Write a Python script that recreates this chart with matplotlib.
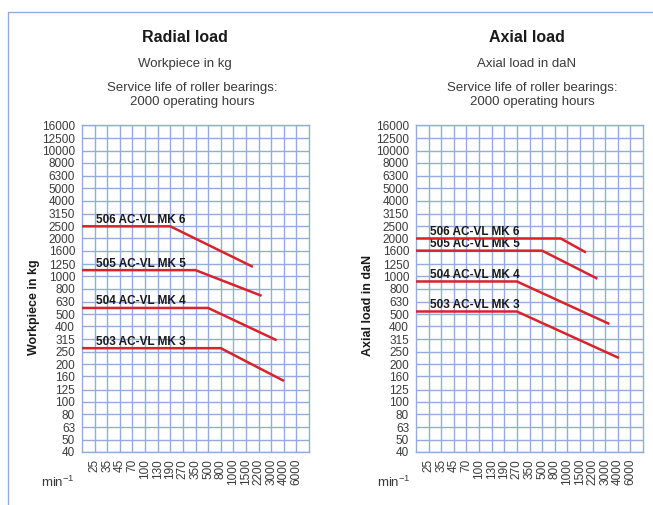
import numpy as np
import matplotlib
matplotlib.use("Agg")
import matplotlib.pyplot as plt
from matplotlib.lines import Line2D

# speed columns (min^-1) and load rows of the chart grid
speeds = [25, 35, 45, 70, 100, 130, 190, 270, 350, 500, 800, 1000, 1500, 2200, 3000, 4000, 6000]
loads = [40, 50, 63, 80, 100, 125, 160, 200, 250, 315, 400, 500, 630, 800, 1000,
         1250, 1600, 2000, 2500, 3150, 4000, 5000, 6300, 8000, 10000, 12500, 16000]
speed_min, speed_max = 18, 9000  # grid edges, one column outside 25 and 6000

models = ["503 AC-VL MK 3", "504 AC-VL MK 4", "505 AC-VL MK 5", "506 AC-VL MK 6"]

# radial load (workpiece in kg)
radial_level = [268, 560, 1120, 2500]
radial_knee = [800, 500, 350, 190]
radial_end_speed = [4030, 3400, 2370, 1850]
radial_end_load = [147, 310, 700, 1190]

# axial load (daN)
axial_level = [525, 910, 1600, 2000]
axial_knee = [270, 270, 500, 890]
axial_end_speed = [4150, 3300, 2480, 1800]
axial_end_load = [224, 418, 957, 1550]

GRID = "#93acd9"
RED = "#d8232c"
TXT = "#3a3a3a"

plt.rcParams["font.family"] = ["Liberation Sans", "DejaVu Sans"]
plt.rcParams["mathtext.fontset"] = "custom"
plt.rcParams["mathtext.rm"] = "Liberation Sans"

edges = np.log10([speed_min] + speeds + [speed_max])
slots = np.arange(len(edges))


def fwd(x):
    x = np.clip(np.asarray(x, dtype=float), 1e-3, None)
    return np.interp(np.log10(x), edges, slots)


def inv(p):
    return 10 ** np.interp(p, slots, edges)


W, H = 653, 505
fig = plt.figure(figsize=(W / 100, H / 100), dpi=100)


def px(x, y):
    return x / W, 1 - y / H


def panel(left_px, level, knee, end_s, end_l):
    ax = fig.add_axes([left_px / W, 1 - 452 / H, 227 / W, 327 / H])
    ax.set_xscale("function", functions=(fwd, inv))
    ax.set_yscale("log")
    ax.set_xlim(speed_min, speed_max)
    ax.set_ylim(loads[0], loads[-1])
    ax.set_xticks(speeds)
    ax.set_xticklabels([str(s) for s in speeds], rotation=90, va="top")
    ax.xaxis.set_minor_locator(matplotlib.ticker.NullLocator())
    ax.set_yticks(loads)
    ax.set_yticklabels([str(v) for v in loads])
    ax.yaxis.set_minor_locator(matplotlib.ticker.NullLocator())
    ax.tick_params(which="both", length=0, labelsize=8.5, labelcolor=TXT, pad=5)
    ax.grid(True, which="major", color=GRID, lw=1)
    for s in ax.spines.values():
        s.set_color(GRID)
        s.set_linewidth(1)
    for name, lv, k, es, el in zip(models, level, knee, end_s, end_l):
        ax.plot([speed_min, k, es], [lv, lv, el], color=RED, lw=1.8,
                solid_capstyle="butt", zorder=3, clip_on=False)
        ax.annotate(name, xy=(0.06, lv), xycoords=("axes fraction", "data"),
                    xytext=(0, 2.5), textcoords="offset points",
                    fontsize=8.5, fontweight="bold", color="#1a1a1a",
                    ha="left", va="baseline")
    return ax


panel(82, radial_level, radial_knee, radial_end_speed, radial_end_load)
panel(416, axial_level, axial_knee, axial_end_speed, axial_end_load)

# headings
for cx, cx2, title, sub in [(185, 192, "Radial load", "Workpiece in kg"),
                            (527, 532, "Axial load", "Axial load in daN")]:
    fig.text(*px(cx, 38), title, fontsize=11.5, fontweight="bold", color="#1a1a1a",
             ha="center", va="center")
    fig.text(*px(cx, 64), sub, fontsize=9.5, color=TXT, ha="center", va="center")
    fig.text(*px(cx2, 88.5), "Service life of roller bearings:", fontsize=9.5, color=TXT,
             ha="center", va="center")
    fig.text(*px(cx2, 102), "2000 operating hours", fontsize=9.5, color=TXT,
             ha="center", va="center")

fig.text(*px(34.5, 307), "Workpiece in kg", fontsize=9, fontweight="bold",
         rotation=90, ha="center", va="center", color="#1a1a1a")
fig.text(*px(368, 305), "Axial load in daN", fontsize=9, fontweight="bold",
         rotation=90, ha="center", va="center", color="#1a1a1a")

for x0 in (58, 394):
    fig.text(*px(x0, 482), r"min$^{\mathregular{-1}}$", fontsize=9.5, color=TXT,
             ha="center", va="center")

# light blue frame at the left and top
fig.add_artist(Line2D([8 / W, 8 / W, 1], [0, 1 - 12 / H, 1 - 12 / H],
                      transform=fig.transFigure, color=GRID, lw=1))

fig.savefig("out.png", dpi=100)
